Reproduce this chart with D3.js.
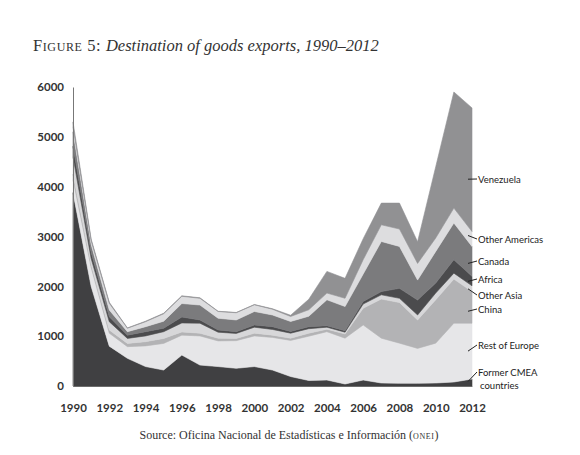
<!DOCTYPE html>
<html>
<head>
<meta charset="utf-8">
<script src="https://cdn.jsdelivr.net/npm/d3@7"></script>
<style>
  body { margin: 0; background: #fff; }
  svg { display: block; }
</style>
</head>
<body>
<svg id="chart" width="580" height="455" viewBox="0 0 580 455"></svg>
<script>
// years on the x axis
const years = d3.range(1990, 2013);

// series, bottom to top
const seriesNames = ["Former CMEA countries", "Rest of Europe", "China", "Other Asia",
  "Africa", "Canada", "Other Americas", "Venezuela"];

const formerCMEA = [3880, 2000, 800, 555, 390, 320, 620, 420, 390, 355, 390, 320, 190, 110, 120, 40, 120, 60, 55, 55, 60, 80, 140];
const restOfEurope = [260, 380, 260, 235, 415, 535, 400, 585, 515, 555, 615, 655, 725, 890, 970, 920, 1105, 900, 805, 700, 800, 1180, 1120];
const china = [110, 60, 65, 65, 85, 100, 65, 55, 55, 45, 55, 45, 45, 60, 50, 85, 335, 785, 815, 570, 870, 885, 635];
const otherAsia = [350, 120, 165, 100, 115, 135, 180, 200, 120, 100, 120, 115, 100, 90, 40, 35, 85, 85, 85, 100, 135, 120, 115];
const africa = [210, 120, 100, 65, 85, 70, 120, 65, 45, 35, 45, 55, 35, 40, 30, 30, 50, 65, 200, 300, 200, 270, 190];
const canada = [290, 160, 135, 70, 100, 140, 270, 300, 235, 235, 270, 235, 200, 210, 520, 485, 550, 1005, 840, 400, 635, 735, 600];
const otherAmericas = [100, 80, 135, 70, 100, 150, 145, 135, 135, 145, 135, 115, 100, 130, 135, 165, 290, 335, 350, 335, 270, 300, 300];
const venezuela = [100, 30, 20, 5, 10, 10, 10, 10, 5, 5, 5, 10, 25, 210, 435, 400, 420, 435, 520, 435, 1430, 2330, 2480];

const yTicks = [0, 1000, 2000, 3000, 4000, 5000, 6000];
const xTicks = d3.range(1990, 2013, 2);

const seriesValues = [formerCMEA, restOfEurope, china, otherAsia, africa, canada, otherAmericas, venezuela];
const fills = ["#404042", "#e6e6e8", "#b3b3b5", "#d7d7d9", "#4b4b4d", "#7b7b7d", "#dddddf", "#919193"];

// right-edge labels: value the leader line points at, label baseline
const labelInfo = [
  { name: "Former CMEA", name2: "countries", at: 90, ty: 375 },
  { name: "Rest of Europe", at: 700, ty: 348 },
  { name: "China", at: 1500, ty: 312 },
  { name: "Other Asia", at: 1950, ty: 298 },
  { name: "Africa", at: 2100, ty: 282 },
  { name: "Canada", at: 2460, ty: 264 },
  { name: "Other Americas", at: 3020, ty: 242 },
  { name: "Venezuela", at: 4150, ty: 182 }
];

const table = years.map((yr, i) => {
  const row = { year: yr };
  seriesNames.forEach((k, j) => row[k] = seriesValues[j][i]);
  return row;
});

const svg = d3.select("#chart");
const plotLeft = 73, plotRight = 472, plotTop = 87, plotBottom = 386;

const x = d3.scaleLinear().domain([1990, 2012]).range([plotLeft, plotRight]);
const y = d3.scaleLinear().domain([0, 6000]).range([plotBottom, plotTop]);

const stacked = d3.stack().keys(seriesNames)(table);

const area = d3.area()
  .x(d => x(d.data.year))
  .y0(d => y(d[0]))
  .y1(d => y(d[1]));

svg.append("g")
  .selectAll("path")
  .data(stacked)
  .join("path")
  .attr("d", area)
  .attr("fill", (d, i) => fills[i])
  .attr("stroke", (d, i) => fills[i])
  .attr("stroke-width", 0.6)
  .attr("stroke-linejoin", "round");

// axes
const yAxis = svg.append("g")
  .attr("transform", `translate(${plotLeft},0)`)
  .call(d3.axisLeft(y).tickValues(yTicks).tickSize(0).tickPadding(9).tickFormat(d3.format("d")));
yAxis.select(".domain").attr("stroke", "#777").attr("stroke-width", 1);

const xAxis = svg.append("g")
  .attr("transform", `translate(0,${plotBottom})`)
  .call(d3.axisBottom(x).tickValues(xTicks).tickSize(0).tickPadding(18).tickFormat(d3.format("d")));
xAxis.select(".domain").attr("stroke", "#555").attr("stroke-width", 0.8);

svg.selectAll(".tick text")
  .attr("font-family", "Lato, sans-serif")
  .attr("font-size", 11.5)
  .attr("font-weight", 700)
  .attr("fill", "#333");

// right-hand labels with short leader lines
const lab = svg.append("g");
labelInfo.forEach(l => {
  lab.append("line")
    .attr("x1", plotRight - 4).attr("y1", y(l.at))
    .attr("x2", plotRight + 5).attr("y2", l.ty - 3)
    .attr("stroke", "#222").attr("stroke-width", 1);
  lab.append("text")
    .attr("x", plotRight + 6).attr("y", l.ty + 1)
    .attr("font-family", "Lato, sans-serif")
    .attr("font-size", 9.5)
    .attr("fill", "#222")
    .text(l.name);
  if (l.name2) {
    lab.append("text")
      .attr("x", plotRight + 8).attr("y", l.ty + 14)
      .attr("font-family", "Lato, sans-serif")
      .attr("font-size", 9.5)
      .attr("fill", "#222")
      .text(l.name2);
  }
});

// title
const title = svg.append("text")
  .attr("x", 33).attr("y", 51)
  .attr("font-family", "'Liberation Serif', 'DejaVu Serif', serif")
  .attr("font-size", 16.5)
  .attr("fill", "#333");
title.append("tspan").attr("font-variant", "small-caps").attr("letter-spacing", 0.6).text("Figure 5: ");
title.append("tspan").attr("font-style", "italic").text("Destination of goods exports, 1990–2012");

// source
const src = svg.append("text")
  .attr("x", 289).attr("y", 439)
  .attr("text-anchor", "middle")
  .attr("font-family", "'Liberation Serif', 'DejaVu Serif', serif")
  .attr("font-size", 12)
  .attr("fill", "#333");
src.append("tspan").text("Source: Oficina Nacional de Estadísticas e Información (");
src.append("tspan").attr("font-variant", "small-caps").attr("letter-spacing", 0.6).text("onei");
src.append("tspan").text(")");
</script>
</body>
</html>
